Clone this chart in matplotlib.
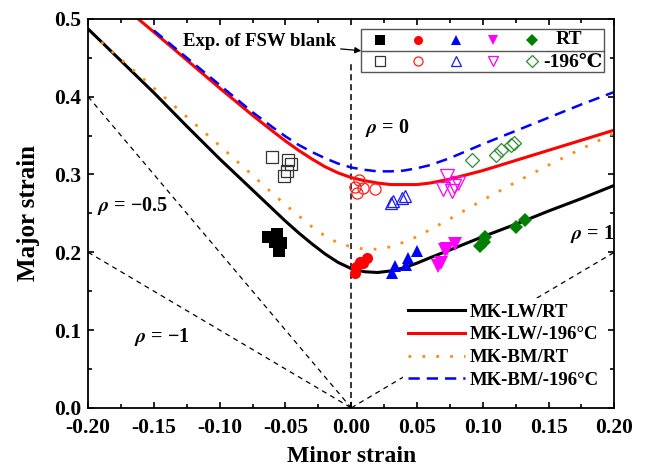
import numpy as np
import matplotlib
matplotlib.use("Agg")
import matplotlib.pyplot as plt
from matplotlib.patches import Rectangle
from matplotlib.ticker import MultipleLocator, FormatStrFormatter

plt.rcParams['font.family'] = ['Liberation Serif', 'DejaVu Serif']
plt.rcParams['font.weight'] = 'bold'
plt.rcParams['axes.labelweight'] = 'bold'
plt.rcParams['mathtext.fontset'] = 'stix'
plt.rcParams['axes.unicode_minus'] = False

# FLC curves (minor strain, major strain)
lw_rt_x = [-0.2, -0.175, -0.15, -0.125, -0.1, -0.075, -0.06, -0.05, -0.04, -0.03,
           -0.02, -0.01, 0.0, 0.01, 0.02, 0.03, 0.04, 0.05, 0.06, 0.075, 0.1,
           0.125, 0.15, 0.175, 0.2]
lw_rt_y = [0.487, 0.446, 0.405, 0.362, 0.320, 0.280, 0.256, 0.240, 0.225, 0.211,
           0.198, 0.187, 0.179, 0.175, 0.174, 0.176, 0.180, 0.186, 0.193, 0.203, 0.220,
           0.236, 0.253, 0.269, 0.286]

lw_cryo_x = [-0.162, -0.15, -0.125, -0.1, -0.075, -0.06, -0.05, -0.04, -0.03, -0.02,
             -0.01, 0.0, 0.01, 0.02, 0.03, 0.04, 0.05, 0.06, 0.075, 0.1, 0.125,
             0.15, 0.175, 0.2]
lw_cryo_y = [0.5, 0.483, 0.447, 0.411, 0.376, 0.356, 0.343, 0.331, 0.320, 0.310,
             0.302, 0.296, 0.292, 0.289, 0.287, 0.287, 0.287, 0.289, 0.294, 0.305, 0.318,
             0.331, 0.344, 0.357]

bm_rt_x = [-0.19, -0.175, -0.15, -0.125, -0.1, -0.075, -0.06, -0.05, -0.04, -0.03,
           -0.02, -0.01, 0.0, 0.01, 0.02, 0.03, 0.04, 0.05, 0.06, 0.075, 0.1,
           0.125, 0.15, 0.175, 0.2]
bm_rt_y = [0.470, 0.448, 0.411, 0.374, 0.337, 0.299, 0.276, 0.261, 0.247, 0.233,
           0.221, 0.212, 0.207, 0.204, 0.204, 0.207, 0.213, 0.220, 0.229, 0.243, 0.267,
           0.290, 0.312, 0.333, 0.353]

bm_cryo_x = [-0.15, -0.125, -0.1, -0.075, -0.06, -0.05, -0.04, -0.03, -0.02, -0.01,
             0.0, 0.01, 0.02, 0.03, 0.04, 0.05, 0.06, 0.075, 0.1, 0.125, 0.15,
             0.175, 0.2]
bm_cryo_y = [0.485, 0.450, 0.415, 0.380, 0.361, 0.349, 0.338, 0.329, 0.321, 0.314,
             0.309, 0.306, 0.304, 0.304, 0.305, 0.308, 0.312, 0.321, 0.339, 0.356, 0.373,
             0.390, 0.406]

# strain path lines through the origin
rho_lines = {
    'm05': ([-0.2, 0.0], [0.4, 0.0]),
    'm1': ([-0.2, 0.0], [0.2, 0.0]),
    'p1': ([0.0, 0.2], [0.0, 0.2]),
}

# FSW blank experiments, RT (filled) and -196C (open)
sq_rt_x = [-0.063, -0.0565, -0.058, -0.053, -0.055]
sq_rt_y = [0.220, 0.223, 0.213, 0.212, 0.201]
sq_cr_x = [-0.060, -0.048, -0.046, -0.049, -0.051]
sq_cr_y = [0.322, 0.318, 0.314, 0.305, 0.298]

ci_rt_x = [0.003, 0.004, 0.007, 0.009, 0.012]
ci_rt_y = [0.173, 0.181, 0.188, 0.186, 0.192]
ci_cr_x = [0.0056, 0.009, 0.0043, 0.018, 0.003]
ci_cr_y = [0.293, 0.283, 0.276, 0.281, 0.284]

tu_rt_x = [0.031, 0.033, 0.042, 0.043, 0.050]
tu_rt_y = [0.173, 0.182, 0.184, 0.193, 0.201]
tu_cr_x = [0.030, 0.032, 0.0385, 0.041]
tu_cr_y = [0.263, 0.266, 0.270, 0.272]

td_rt_x = [0.066, 0.068, 0.0715, 0.073, 0.079]
td_rt_y = [0.182, 0.186, 0.203, 0.204, 0.210]
td_cr_x = [0.073, 0.070, 0.0765, 0.0815, 0.078]
td_cr_y = [0.298, 0.281, 0.279, 0.289, 0.285]

di_rt_x = [0.098, 0.101, 0.102, 0.125, 0.132]
di_rt_y = [0.208, 0.213, 0.219, 0.232, 0.241]
di_cr_x = [0.092, 0.110, 0.114, 0.1215, 0.1235]
di_cr_y = [0.318, 0.3245, 0.332, 0.3375, 0.3405]

fig = plt.figure(figsize=(6.48, 4.71), dpi=100)
ax = fig.add_axes([0.136, 0.134, 0.812, 0.826])

dash_k = dict(color='black', lw=0.9, linestyle=(0, (4, 3.5)))
for key in rho_lines:
    ax.plot(*rho_lines[key], **dash_k)
ax.plot([0, 0], [0, 0.445], color='black', lw=1.1, linestyle=(0, (4, 2.5)))

ax.plot(lw_rt_x, lw_rt_y, color='black', lw=2.2, label='MK-LW/RT')
ax.plot(lw_cryo_x, lw_cryo_y, color='#ff0000', lw=2.2, label='MK-LW/-196°C')
ax.plot(bm_rt_x, bm_rt_y, color='#ff8c1a', lw=2.0, linestyle=(0, (1, 4)),
        label='MK-BM/RT')
ax.plot(bm_cryo_x, bm_cryo_y, color='#0000ff', lw=1.8, linestyle=(0, (4.5, 2.8)),
        label='MK-BM/-196°C')

# experimental points
groups = [
    ('s', 'black', '#333333', sq_rt_x, sq_rt_y, sq_cr_x, sq_cr_y, 8.5),
    ('o', '#ff0000', '#ff2020', ci_rt_x, ci_rt_y, ci_cr_x, ci_cr_y, 8),
    ('^', '#0000ff', '#1a1aff', tu_rt_x, tu_rt_y, tu_cr_x, tu_cr_y, 9),
    ('v', '#ff00ff', '#ff00ff', td_rt_x, td_rt_y, td_cr_x, td_cr_y, 9.5),
    ('D', '#007f00', '#2e8b2e', di_rt_x, di_rt_y, di_cr_x, di_cr_y, 7),
]
for m, c_full, c_open, xr, yr, xc, yc, ms in groups:
    ax.plot(xr, yr, m, color=c_full, ms=ms, mew=0, zorder=4)
    ax.plot(xc, yc, m, mfc='none', mec=c_open, ms=ms, mew=0.9, zorder=4)

# marker key at the top
kx = [0.555, 0.627, 0.700, 0.770, 0.843]
ky_rt, ky_cr = 0.946, 0.891
ax.add_patch(Rectangle((0.519, 0.864), 0.462, 0.110, transform=ax.transAxes,
                       fill=False, ec='#555555', lw=1.0, zorder=5))
ax.plot([0.519, 0.981], [0.918, 0.918], transform=ax.transAxes,
        color='#555555', lw=1.0, zorder=5)
for x, (m, c_full, c_open, *_rest) in zip(kx, groups):
    ax.plot([x], [ky_rt], m, color=c_full, ms=6.5, mew=0, transform=ax.transAxes,
            clip_on=False, zorder=6)
    ax.plot([x], [ky_cr], m, mfc='none', mec=c_open, ms=6.5, mew=0.9,
            transform=ax.transAxes, clip_on=False, zorder=6)
ax.text(0.914, ky_rt, 'RT', transform=ax.transAxes, fontsize=14,
        ha='center', va='center')
ax.text(0.922, ky_cr - 0.004, '-196℃', transform=ax.transAxes, fontsize=14,
        ha='center', va='center')
ax.annotate('Exp. of FSW blank', xy=(0.519, 0.918), xytext=(0.181, 0.941),
            xycoords='axes fraction', textcoords='axes fraction',
            fontsize=13.5, va='center', ha='left',
            arrowprops=dict(arrowstyle='-|>', color='black', lw=0.9,
                            mutation_scale=9, shrinkA=1, shrinkB=0))

# strain ratio labels
ax.text(0.0274, 0.360, r'$\rho$ = 0', fontsize=14.5, ha='center', va='center')
ax.text(-0.166, 0.259, r'$\rho$ = −0.5', fontsize=14.5, ha='center', va='center')
ax.text(-0.144, 0.091, r'$\rho$ = −1', fontsize=14.5, ha='center', va='center')
ax.text(0.183, 0.223, r'$\rho$ = 1', fontsize=14.5, ha='center', va='center')

leg = ax.legend(loc='lower right', bbox_to_anchor=(1.0, 0.01), fontsize=13.5,
                handlelength=3.0, handletextpad=0.3, labelspacing=0.3,
                borderpad=0.3, frameon=True, fancybox=False)
leg.get_frame().set_edgecolor('none')
leg.get_frame().set_facecolor('white')
leg.get_frame().set_alpha(1)
leg.set_zorder(3)

ax.set_xlim(-0.2, 0.2)
ax.set_ylim(0, 0.5)
ax.xaxis.set_major_locator(MultipleLocator(0.05))
ax.xaxis.set_minor_locator(MultipleLocator(0.025))
ax.yaxis.set_major_locator(MultipleLocator(0.1))
ax.yaxis.set_minor_locator(MultipleLocator(0.05))
ax.xaxis.set_major_formatter(FormatStrFormatter('%.2f'))
ax.yaxis.set_major_formatter(FormatStrFormatter('%.1f'))
ax.tick_params(which='both', direction='in', top=True, right=True, width=1.2,
               labelsize=15.5)
ax.tick_params(which='major', length=4.5)
ax.tick_params(axis='x', which='major', pad=7)
ax.tick_params(axis='y', which='major', pad=5)
ax.tick_params(which='minor', length=2.6)
for s in ax.spines.values():
    s.set_linewidth(1.3)

ax.set_xlabel('Minor strain', fontsize=17, labelpad=6)
ax.set_ylabel('Major strain', fontsize=18, labelpad=10)

fig.savefig('out.png', dpi=100)
